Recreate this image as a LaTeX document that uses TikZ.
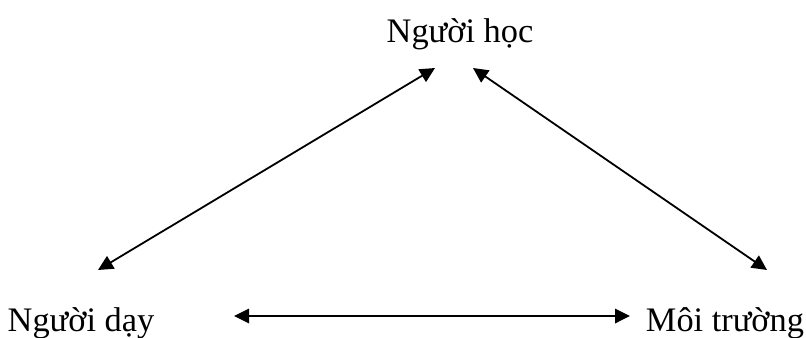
\documentclass[tikz,border=0pt]{standalone}
\usepackage{fontspec}
\setmainfont{Liberation Serif}
\usetikzlibrary{arrows.meta}
\tikzset{
  lbl/.style={anchor=base, inner sep=0pt, font=\fontsize{34.5}{40}\selectfont},
  link/.style={line width=1.8bp, {Triangle[length=15bp,width=14.5bp]}-{Triangle[length=15bp,width=14.5bp]}}
}
\begin{document}
\begin{tikzpicture}[x=1bp,y=-1bp]
\useasboundingbox (0,0) rectangle (806,337);
\node[lbl] (hoc) at (460,42) {Người học};
\node[lbl] (day) at (81,331) {Người dạy};
\node[lbl] (mt) at (725,331) {Môi trường};
\coordinate (a1) at (98,270);
\coordinate (a2) at (435,68);
\coordinate (b1) at (473,68);
\coordinate (b2) at (767,270);
\coordinate (c1) at (234,316);
\coordinate (c2) at (630,316);
\draw[link] (a1) -- (a2);
\draw[link] (b1) -- (b2);
\draw[link] (c1) -- (c2);
\end{tikzpicture}
\end{document}
